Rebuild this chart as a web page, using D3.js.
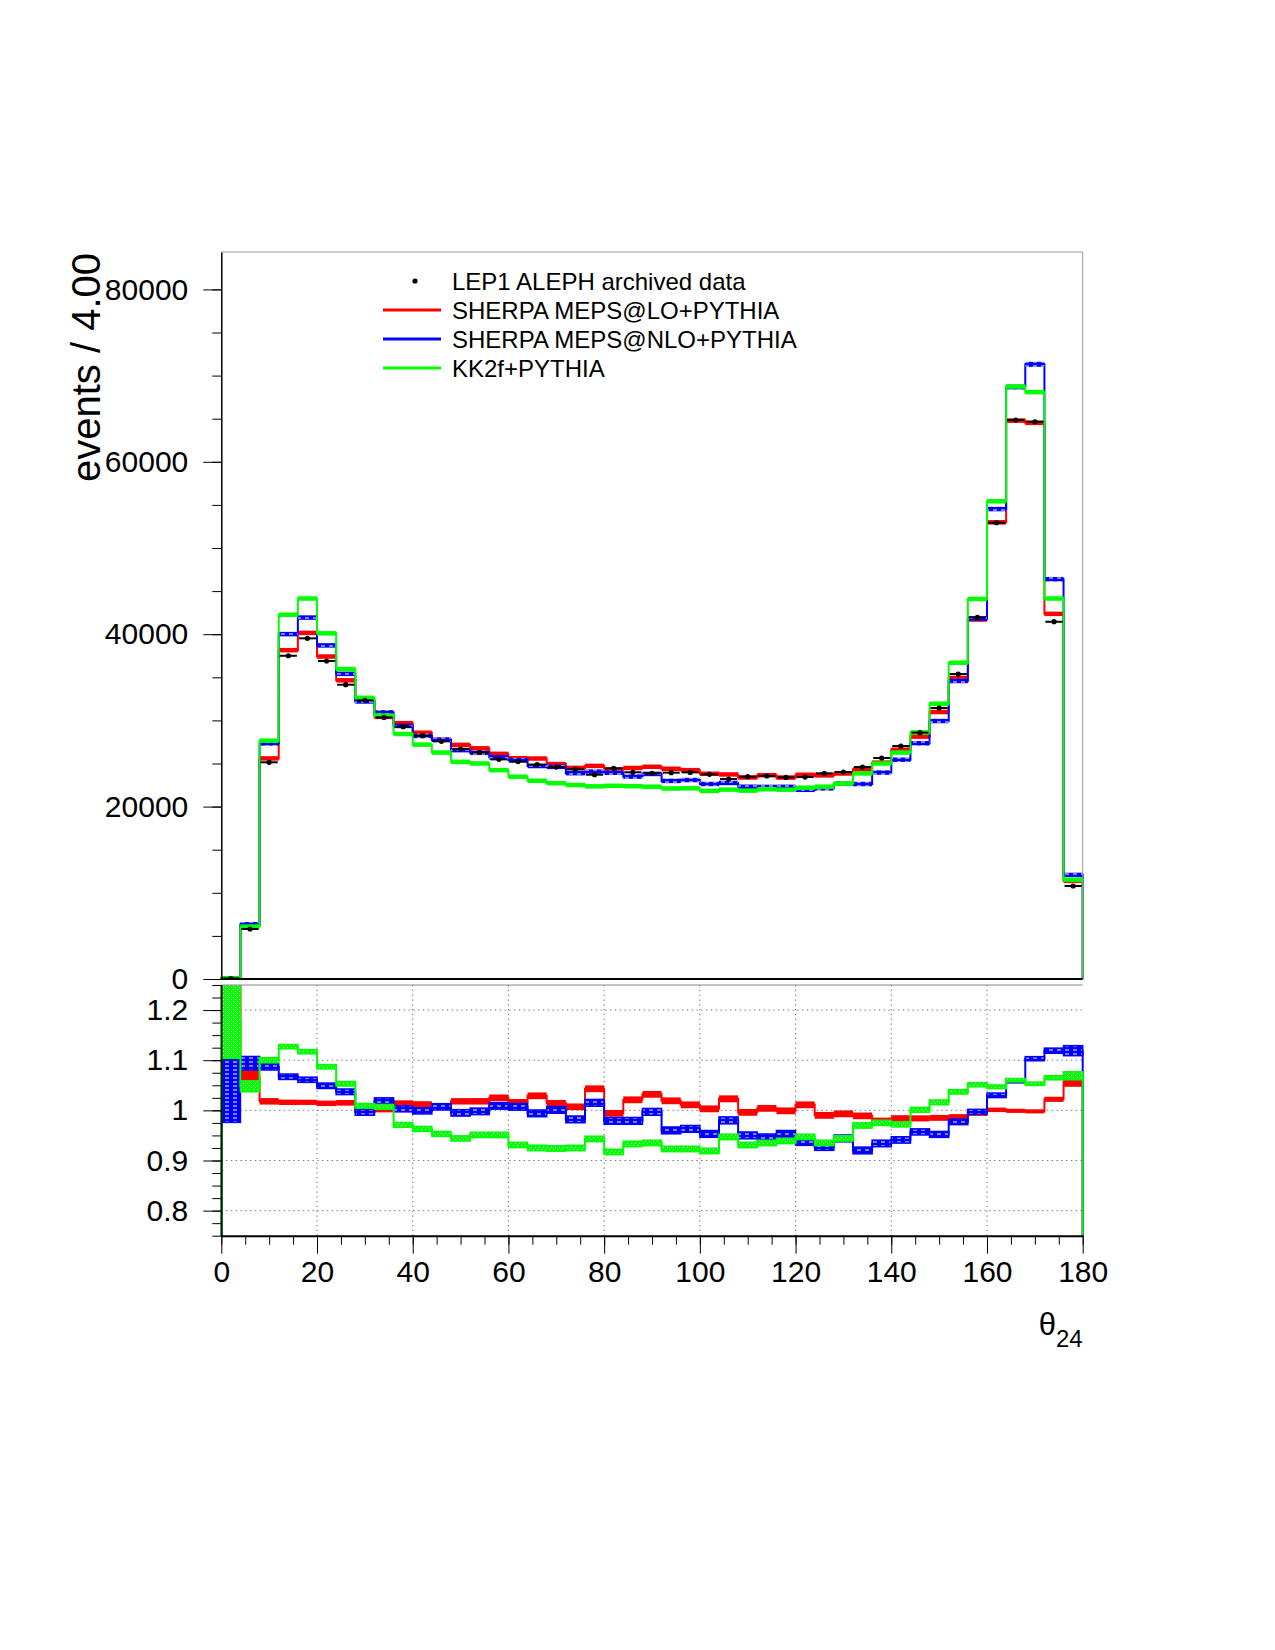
<!DOCTYPE html>
<html>
<head>
<meta charset="utf-8">
<script src="https://cdnjs.cloudflare.com/ajax/libs/d3/7.8.5/d3.min.js"></script>
<style>
body { margin: 0; background: #fff; }
svg text { font-family: "Liberation Sans", Arial, Helvetica, sans-serif; fill: #000; }
</style>
</head>
<body>
<div id="chart"></div>
<script>
// 45 bins of 4 degrees in theta_24
var binLow = [0,4,8,12,16,20,24,28,32,36,40,44,48,52,56,60,64,68,72,76,80,84,88,92,96,
    100,104,108,112,116,120,124,128,132,136,140,144,148,152,156,160,164,168,172,176];
var binWidth = 4;

var xTickLabels = [0,20,40,60,80,100,120,140,160,180];
var yTickLabels = [0,20000,40000,60000,80000];
var ratioTickLabels = [0.8,0.9,1,1.1,1.2];

var legendLabels = ["LEP1 ALEPH archived data", "SHERPA MEPS@LO+PYTHIA",
    "SHERPA MEPS@NLO+PYTHIA", "KK2f+PYTHIA"];

// events per bin (upper panel)
var dataCounts = [60,5800,25140,37500,39520,36890,34140,32330,30350,29270,28230,27570,26680,26290,25480,
    25210,24860,24590,24320,23700,24440,23980,23860,23940,23970,23740,23200,23470,23550,23390,
    23430,23860,24010,24590,25640,27030,28580,31440,35380,41950,52930,64840,64650,41450,10790];
var loCounts = [80,6190,25590,38150,40150,37410,34650,32300,30410,29680,28570,27760,27160,26760,26120,
    25610,25580,24930,24490,24720,24290,24480,24620,24390,24230,23810,23730,23380,23640,23370,
    23690,23620,23840,24320,25100,26600,28120,30970,34920,41700,52980,64780,64520,42360,11410];
var nloCounts = [62,6350,27330,40010,41930,38700,35400,32200,30930,29360,28200,27760,26550,26240,25710,
    25390,24710,24610,23880,24060,23930,23480,23790,22980,23080,22620,22740,22300,22280,22290,
    21950,22120,22670,22620,23950,25440,27350,29930,34570,41820,54520,68670,71310,46380,12070];
var kkCounts = [70,6080,27650,42260,44140,40100,35950,32620,30560,28420,27190,26270,25190,25000,24230,
    23470,23000,22720,22500,22350,22410,22370,22310,22100,22120,21820,21970,21850,22020,21960,
    22190,22310,22670,23850,25000,26270,28610,31940,36690,44090,55420,68730,68080,44140,11530];

// MC / data (lower panel)
var loRatio = [1.35,1.067,1.018,1.016,1.016,1.014,1.015,0.999,1.002,1.014,1.012,1.007,1.018,1.018,1.025,
    1.016,1.029,1.014,1.007,1.043,0.994,1.021,1.032,1.019,1.011,1.003,1.023,0.996,1.004,0.999,
    1.011,0.990,0.993,0.989,0.979,0.984,0.984,0.985,0.987,0.994,1.001,0.999,0.998,1.022,1.057];
var nloRatio = [1.04,1.094,1.087,1.067,1.061,1.049,1.037,0.996,1.019,1.003,0.999,1.007,0.995,0.998,1.009,
    1.007,0.994,1.001,0.982,1.015,0.979,0.979,0.997,0.960,0.963,0.953,0.980,0.950,0.946,0.953,
    0.937,0.927,0.944,0.920,0.934,0.941,0.957,0.952,0.977,0.997,1.030,1.059,1.103,1.119,1.119];
var kkRatio = [1.18,1.048,1.100,1.127,1.117,1.087,1.053,1.009,1.007,0.971,0.963,0.953,0.944,0.951,0.951,
    0.931,0.925,0.924,0.925,0.943,0.917,0.933,0.935,0.923,0.923,0.919,0.947,0.931,0.935,0.939,
    0.947,0.935,0.944,0.970,0.975,0.972,1.001,1.016,1.037,1.051,1.047,1.060,1.053,1.065,1.069];

// relative MC uncertainty (half width of the bands)
var loErr = [0.1,0.0135,0.0065,0.0054,0.0052,0.0054,0.0056,0.0058,0.006,0.006,0.0062,0.0063,0.0064,0.0065,0.0066,
    0.0066,0.0067,0.0067,0.0067,0.0068,0.0067,0.0068,0.0068,0.0068,0.0068,0.0068,0.0069,0.0068,0.0068,0.0068,
    0.0068,0.0068,0.0068,0.0067,0.0065,0.0063,0.0061,0.0059,0.0055,0.005,0.0045,0.0041,0.0041,0.0051,0.0100];
var nloErr = [0.064,0.0135,0.0065,0.0054,0.0052,0.0054,0.0056,0.0058,0.006,0.006,0.0062,0.0063,0.0064,0.0065,0.0066,
    0.0066,0.0067,0.0067,0.0067,0.0068,0.0067,0.0068,0.0068,0.0068,0.0068,0.0068,0.0069,0.0068,0.0068,0.0068,
    0.0068,0.0068,0.0068,0.0067,0.0065,0.0063,0.0061,0.0059,0.0055,0.005,0.0045,0.0041,0.0041,0.0051,0.0100];
var kkErr = [0.076,0.011,0.0052,0.0043,0.0042,0.0043,0.0045,0.0046,0.0048,0.0048,0.005,0.005,0.0051,0.0052,0.0053,
    0.0053,0.0054,0.0054,0.0054,0.0054,0.0054,0.0054,0.0054,0.0054,0.0054,0.0054,0.0055,0.0054,0.0054,0.0054,
    0.0054,0.0054,0.0054,0.0054,0.0052,0.005,0.0049,0.0047,0.0044,0.004,0.0036,0.0033,0.0033,0.0041,0.0080];

// page geometry
var width = 1275, height = 1650;
var plotLeft = 221.3, plotRight = 1082.7;
var topY0 = 252, topY1 = 979;
var ratioY0 = 985, ratioY1 = 1235.7;

var x = d3.scaleLinear().domain([0, 180]).range([plotLeft, plotRight]),
    yTop = d3.scaleLinear().domain([0, 84340]).range([topY1, topY0]),
    yRatio = d3.scaleLinear().domain([0.75, 1.25]).range([ratioY1, ratioY0]);

var svg = d3.select("#chart").append("svg")
    .attr("width", width).attr("height", height)
    .style("background", "#fff");

var defs = svg.append("defs");
defs.append("clipPath").attr("id", "clipTop").append("rect")
    .attr("x", plotLeft - 2).attr("y", topY0).attr("width", plotRight - plotLeft + 4).attr("height", topY1 - topY0);
defs.append("clipPath").attr("id", "clipRatio").append("rect")
    .attr("x", plotLeft - 2).attr("y", ratioY0).attr("width", plotRight - plotLeft + 4).attr("height", ratioY1 - ratioY0);

// hatch styles like ROOT fill patterns
var bluePat = defs.append("pattern").attr("id", "blueHatch")
    .attr("patternUnits", "userSpaceOnUse").attr("width", 8).attr("height", 4);
bluePat.append("rect").attr("width", 8).attr("height", 4).attr("fill", "#0000ff");
bluePat.append("line").attr("x1", 1).attr("x2", 5).attr("y1", 2).attr("y2", 2)
    .attr("stroke", "#fff").attr("stroke-width", 1);
var greenPat = defs.append("pattern").attr("id", "greenHatch")
    .attr("patternUnits", "userSpaceOnUse").attr("width", 4).attr("height", 4);
greenPat.append("rect").attr("width", 4).attr("height", 4).attr("fill", "#00ff00");
greenPat.append("rect").attr("x", 1).attr("y", 1).attr("width", 1).attr("height", 1).attr("fill", "#fff");
greenPat.append("rect").attr("x", 3).attr("y", 3).attr("width", 1).attr("height", 1).attr("fill", "#fff");

var series = [
    {counts: loCounts, ratio: loRatio, err: loErr, color: "#ff0000", topFill: "#ff0000", ratioFill: "#ff0000", outline: false},
    {counts: nloCounts, ratio: nloRatio, err: nloErr, color: "#0000ff", topFill: "url(#blueHatch)", ratioFill: "url(#blueHatch)", outline: true},
    {counts: kkCounts, ratio: kkRatio, err: kkErr, color: "#00ff00", topFill: "#00ff00", ratioFill: "url(#greenHatch)", outline: true}
];

// histogram outline, dropping to zero at both ends
function stepPoints(values) {
    var pts = [[0, 0]];
    values.forEach((v, i) => pts.push([binLow[i], v]));
    pts.push([180, values[values.length - 1]]);
    pts.push([180, 0]);
    return pts;
}

// ---------------- upper panel ----------------
var topG = svg.append("g").attr("clip-path", "url(#clipTop)");
var topLine = d3.line().x(d => x(d[0])).y(d => yTop(d[1])).curve(d3.curveStepAfter);

series.forEach(s => {
    topG.append("path").datum(stepPoints(s.counts))
        .attr("d", topLine)
        .attr("fill", "none").attr("stroke", s.color).attr("stroke-width", 2);

    topG.selectAll(null).data(s.counts).enter().append("rect")
        .attr("x", (d, i) => x(binLow[i]))
        .attr("width", (d, i) => x(binLow[i] + binWidth) - x(binLow[i]))
        .attr("y", (d, i) => {
            var hi = yTop(d * (1 + s.err[i])), lo = yTop(d * (1 - s.err[i]));
            var h = Math.max(lo - hi, 4.5);
            return (hi + lo) / 2 - h / 2;
        })
        .attr("height", (d, i) => Math.max(yTop(d * (1 - s.err[i])) - yTop(d * (1 + s.err[i])), 4.5))
        .attr("fill", s.topFill);
});

// data points
var dataG = svg.append("g").attr("clip-path", "url(#clipTop)");
dataG.selectAll(".dataBar").data(dataCounts).enter().append("line")
    .attr("class", "dataBar")
    .attr("x1", (d, i) => x(binLow[i]) + 1)
    .attr("x2", (d, i) => x(binLow[i] + binWidth) - 1)
    .attr("y1", d => yTop(d)).attr("y2", d => yTop(d))
    .attr("stroke", "#000").attr("stroke-width", 2);
dataG.selectAll(".dataDot").data(dataCounts).enter().append("circle")
    .attr("class", "dataDot")
    .attr("cx", (d, i) => x(binLow[i] + binWidth / 2))
    .attr("cy", d => yTop(d))
    .attr("r", 2.6).attr("fill", "#000");

// frame of upper panel
svg.append("line").attr("x1", plotLeft).attr("x2", plotRight).attr("y1", topY0).attr("y2", topY0)
    .attr("stroke", "#999").attr("stroke-width", 1);
svg.append("line").attr("x1", plotRight).attr("x2", plotRight).attr("y1", topY0).attr("y2", topY1)
    .attr("stroke", "#999").attr("stroke-width", 1);
svg.append("line").attr("x1", plotLeft).attr("x2", plotRight).attr("y1", topY1).attr("y2", topY1)
    .attr("stroke", "#000").attr("stroke-width", 2);

var yTopAxis = svg.append("g").attr("transform", "translate(" + plotLeft + ",0)")
    .call(d3.axisLeft(yTop).tickValues(yTickLabels).tickSize(18).tickSizeOuter(0).tickPadding(15)
        .tickFormat(d3.format("d")));
var yTopMinor = svg.append("g").attr("transform", "translate(" + plotLeft + ",0)")
    .call(d3.axisLeft(yTop).tickValues(d3.range(0, 84001, 5000)).tickSize(9).tickSizeOuter(0).tickFormat(""));
yTopMinor.select(".domain").remove();

svg.append("text")
    .attr("transform", "translate(100," + (topY0 + 1) + ") rotate(-90)")
    .attr("text-anchor", "end")
    .style("font-size", "40px")
    .text("events / 4.00");

// legend
var legend = svg.append("g");
var legendRows = [281, 310, 339, 368];
legend.append("circle").attr("cx", 415).attr("cy", legendRows[0]).attr("r", 2.6).attr("fill", "#000");
series.forEach((s, i) => {
    legend.append("line").attr("x1", 383).attr("x2", 441)
        .attr("y1", legendRows[i + 1]).attr("y2", legendRows[i + 1])
        .attr("stroke", s.color).attr("stroke-width", 3);
});
legend.selectAll(".legendText").data(legendLabels).enter().append("text")
    .attr("class", "legendText")
    .attr("x", 452).attr("y", (d, i) => legendRows[i])
    .attr("dy", "0.36em")
    .style("font-size", "24px")
    .text(d => d);

// ---------------- ratio panel ----------------
var gridG = svg.append("g");
gridG.selectAll(".hgrid").data(ratioTickLabels).enter().append("line")
    .attr("x1", plotLeft).attr("x2", plotRight)
    .attr("y1", d => yRatio(d)).attr("y2", d => yRatio(d))
    .attr("stroke", "#777").attr("stroke-width", 1).attr("stroke-dasharray", "1.4,3.4");
gridG.selectAll(".vgrid").data(xTickLabels.slice(1, -1)).enter().append("line")
    .attr("x1", d => x(d)).attr("x2", d => x(d))
    .attr("y1", ratioY0).attr("y2", ratioY1)
    .attr("stroke", "#777").attr("stroke-width", 1).attr("stroke-dasharray", "1.4,3.4");

var ratioG = svg.append("g").attr("clip-path", "url(#clipRatio)");
var ratioLine = d3.line().x(d => x(d[0])).y(d => yRatio(d[1])).curve(d3.curveStepAfter);

series.forEach(s => {
    ratioG.append("path").datum(stepPoints(s.ratio))
        .attr("d", ratioLine)
        .attr("fill", "none").attr("stroke", s.color).attr("stroke-width", 2);

    ratioG.selectAll(null).data(s.ratio).enter().append("rect")
        .attr("x", (d, i) => x(binLow[i]))
        .attr("width", (d, i) => x(binLow[i] + binWidth) - x(binLow[i]))
        .attr("y", (d, i) => yRatio(d + s.err[i]))
        .attr("height", (d, i) => yRatio(d - s.err[i]) - yRatio(d + s.err[i]))
        .attr("fill", s.ratioFill)
        .attr("stroke", s.outline ? s.color : "none")
        .attr("stroke-width", 1.5);
});

svg.append("line").attr("x1", plotLeft).attr("x2", plotRight).attr("y1", ratioY0).attr("y2", ratioY0)
    .attr("stroke", "#888").attr("stroke-width", 1);

var yRatioAxis = svg.append("g").attr("transform", "translate(" + plotLeft + ",0)")
    .call(d3.axisLeft(yRatio).tickValues(ratioTickLabels).tickSize(18).tickSizeOuter(0).tickPadding(15)
        .tickFormat(d3.format("")));
var yRatioMinor = svg.append("g").attr("transform", "translate(" + plotLeft + ",0)")
    .call(d3.axisLeft(yRatio).tickValues(d3.range(0.75, 1.2501, 0.025)).tickSize(9).tickSizeOuter(0).tickFormat(""));
yRatioMinor.select(".domain").remove();

var xAxis = svg.append("g").attr("transform", "translate(0," + ratioY1 + ")")
    .call(d3.axisBottom(x).tickValues(xTickLabels).tickSize(18).tickSizeOuter(0).tickPadding(7));
var xMinor = svg.append("g").attr("transform", "translate(0," + ratioY1 + ")")
    .call(d3.axisBottom(x).tickValues(d3.range(0, 181, 5)).tickSize(9).tickSizeOuter(0).tickFormat(""));
xMinor.select(".domain").remove();
xAxis.select(".domain").attr("stroke-width", 2);

svg.selectAll(".tick text").style("font-size", "30px").attr("fill", "#000");
svg.selectAll(".tick line").attr("stroke", "#000");
svg.selectAll(".domain").attr("stroke", "#000");
yTopAxis.select(".domain").attr("stroke-width", 1.5);
yRatioAxis.select(".domain").attr("stroke-width", 1.5);

// x axis title
var xTitle = svg.append("text")
    .attr("x", plotRight).attr("y", 1335)
    .attr("text-anchor", "end")
    .style("font-size", "31px")
    .text("θ");
xTitle.append("tspan").attr("dy", 12).style("font-size", "24px").text("24");
</script>
</body>
</html>
